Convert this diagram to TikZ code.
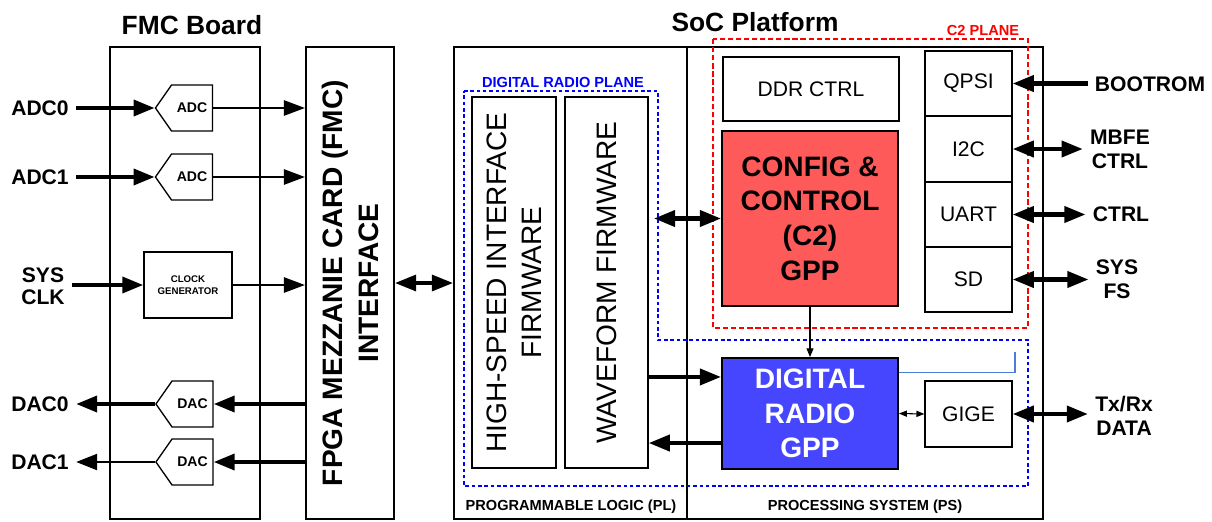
\documentclass[tikz,border=0pt]{standalone}
\usepackage{fontspec}
\setmainfont{Liberation Sans}
\usetikzlibrary{arrows.meta, shapes.symbols}

\begin{document}
\begin{tikzpicture}[
    x=0.02cm, y=-0.02cm,
    every node/.style={font=\bfseries},
    frame/.style={draw, line width=1.1pt, inner sep=0pt},
    blk/.style={draw, line width=0.75pt, inner sep=0pt, font=\fontsize{12}{14}\selectfont},
    conv/.style={draw, line width=0.75pt, signal, signal to=west, signal pointer angle=110,
        minimum width=57*\pxu, minimum height=46*\pxu, inner sep=0pt,
        font=\bfseries\fontsize{8}{9}\selectfont},
    io/.style={font=\bfseries\fontsize{12}{13.5}\selectfont, align=center, inner sep=4pt},
    plane/.style={font=\bfseries\fontsize{8.3}{9}\selectfont, inner sep=0pt},
    fatarrow/.style={-{Triangle[length=12pt, width=9pt]}, line width=2.4pt},
    fatboth/.style={{Triangle[length=12pt, width=9pt]}-{Triangle[length=12pt, width=9pt]}, line width=2.4pt},
    medarrow/.style={-{Triangle[length=12pt, width=8.5pt]}, line width=1.6pt},
    thinboth/.style={{Triangle[length=4.5pt, width=3.5pt]}-{Triangle[length=4.5pt, width=3.5pt]}, line width=0.6pt},
]

\def\pxu{0.02cm}
\definecolor{c2red}{HTML}{FF5A5A}     % config & control block
\definecolor{drblue}{HTML}{4646FF}    % digital radio block
\definecolor{linkblue}{HTML}{4A7FD8}

\useasboundingbox (0,0) rectangle (1212,521);

% ================================================================
%   FMC board          x 110 .. 260
%   FMC interface      x 306 .. 394
%   SoC  PL | PS       x 454 .. 687 .. 1043
% ================================================================

% ---------------------------------------------------------------- titles
\node[font=\bfseries\fontsize{15}{17}\selectfont] (fmct) at (192,25) {FMC Board};
\node[font=\bfseries\fontsize{15}{17}\selectfont] (soct) at (755,22) {SoC Platform};

% ---------------------------------------------------------------- outer frames
\node[frame, minimum width=150*\pxu, minimum height=472*\pxu] (fmcb) at (185,283) {};
\node[frame, minimum width=88*\pxu, minimum height=472*\pxu] (fmci) at (350,283) {};
\node[rotate=90, align=center, font=\bfseries\fontsize{16}{20.5}\selectfont] (fmcit)
    at (fmci.center) {FPGA MEZZANIE CARD (FMC)\\INTERFACE};
\node[frame, minimum width=233*\pxu, minimum height=472*\pxu] (pl) at (570.5,283) {};
\node[frame, minimum width=356*\pxu, minimum height=472*\pxu] (ps) at (865,283) {};
\node[plane] (pll) at (571,507) {PROGRAMMABLE LOGIC (PL)};
\node[plane] (psl) at (865,507) {PROCESSING SYSTEM (PS)};

% ---------------------------------------------------------------- converters
% signal shape: the node centre is the centre of the flat part
\foreach \nm/\yc/\txt in {adc0/108/ADC0, adc1/177/ADC1} {
  \node[conv] (\nm) at (192,\yc) {ADC};
  \node[io] (\nm l) at (40,\yc) {\txt};
  \draw[fatarrow] (\nm l.east) -- (\nm.west);
  \draw[medarrow] (\nm.east) -- (\nm.east -| fmci.west);
}
\foreach \nm/\yc/\txt/\lw in {dac0/404/DAC0/2.4pt, dac1/462/DAC1/1.6pt} {
  \node[conv] (\nm) at (192.5,\yc) {DAC};
  \node[io] (\nm l) at (40,\yc) {\txt};
  \draw[fatarrow] (\nm.east -| fmci.west) -- (\nm.east);
  \draw[fatarrow, line width=\lw] (\nm.west) -- (\nm.west -| \nm l.east);
}

\node[draw, line width=0.75pt, minimum width=88*\pxu, minimum height=66*\pxu, align=center,
    font=\bfseries\fontsize{5.5}{7}\selectfont] (clk) at (188,285) {CLOCK\\GENERATOR};
\node[io, font=\bfseries\fontsize{12}{12.5}\selectfont] (sysclk) at (43,286) {SYS\\CLK};
\draw[fatarrow] (sysclk.east |- clk.west) -- (clk.west);
\draw[medarrow] (clk.east) -- (clk.east -| fmci.west);

\draw[fatboth, line width=2pt] (fmci.east) -- (pl.west);

% ---------------------------------------------------------------- PL firmware
\node[blk, minimum width=84*\pxu, minimum height=371*\pxu] (hs) at (514,282.5) {};
\node[rotate=90, align=center, font=\fontsize{16}{20}\selectfont] (hst)
    at (hs.center) {HIGH-SPEED INTERFACE\\FIRMWARE};
\node[blk, minimum width=83*\pxu, minimum height=371*\pxu] (wf) at (606.5,282.5) {};
\node[rotate=90, font=\fontsize{16}{20}\selectfont] (wft) at (wf.center) {WAVEFORM FIRMWARE};

% ---------------------------------------------------------------- PS blocks
\node[blk, minimum width=176*\pxu, minimum height=64*\pxu] (ddr) at (811,89) {DDR CTRL};
\node[frame, fill=c2red, minimum width=176*\pxu, minimum height=175*\pxu, align=center,
    font=\bfseries\fontsize{16}{19.7}\selectfont] (c2) at (810,218.5)
    {CONFIG \&\\CONTROL\\(C2)\\GPP};
\node[frame, fill=drblue, text=white, minimum width=176*\pxu, minimum height=111*\pxu,
    align=center, font=\bfseries\fontsize{16}{19.7}\selectfont] (drg) at (810,413.5)
    {DIGITAL\\RADIO\\GPP};
\node[blk, minimum width=87*\pxu, minimum height=66*\pxu] (gige) at (968.5,414) {GIGE};

\foreach \nm/\yc/\txt in {qpsi/83.5/QPSI, i2c/149/I2C, uart/214.5/UART, sd/279.5/SD} {
  \node[blk, minimum width=87*\pxu, minimum height=65*\pxu] (\nm) at (968.5,\yc) {\txt};
}

% ---------------------------------------------------------------- planes
\draw[blue, line width=1.5pt, dash pattern=on 2pt off 1.6pt]
    (464,91) -- (658,91) -- (658,340) -- (1028,340) -- (1028,486) -- (464,486) -- cycle;
\node[plane, text=blue] (drpl) at (563,82) {DIGITAL RADIO PLANE};
\draw[red, line width=1.4pt, dash pattern=on 3pt off 1.6pt] (713,39) rectangle (1028,328);
\node[plane, text=red] (c2pl) at (983,30) {C2 PLANE};

% ---------------------------------------------------------------- PL <-> PS
\draw[fatboth] ([xshift=3pt]wf.east |- c2.west) -- (c2.west);
\coordinate (wfin) at ([yshift=20.8pt]drg.west);
\coordinate (wfout) at ([yshift=-16.8pt]drg.west);
\draw[fatarrow] (wf.east |- wfin) -- (wfin);
\draw[fatarrow] (wfout) -- (wf.east |- wfout);

\draw[-{Triangle[length=5pt, width=4pt]}, line width=0.6pt] (c2.south) -- (drg.north);
\draw[thinboth] (drg.east) -- (gige.west);
\coordinate (linkend) at (1015,352);
\draw[linkblue, line width=0.6pt] ([yshift=23.6pt]drg.east) -| (linkend);

% ---------------------------------------------------------------- external I/O
\node[io] (boot) at (1150,84) {BOOTROM};
\draw[fatarrow] (qpsi.east -| boot.west) -- (qpsi.east);
\foreach \nm/\lbl/\xc/\yc/\txt in {i2c/mbfe/1120/149/{MBFE\\CTRL},
    uart/ctrl/1121/214/CTRL, sd/sysfs/1117/279/{SYS\\FS}, gige/txrx/1124/416/{Tx/Rx\\DATA}} {
  \node[io] (\lbl) at (\xc,\yc) {\txt};
  \draw[fatboth] (\nm.east) -- (\nm.east -| \lbl.west);
}

\end{tikzpicture}
\end{document}
